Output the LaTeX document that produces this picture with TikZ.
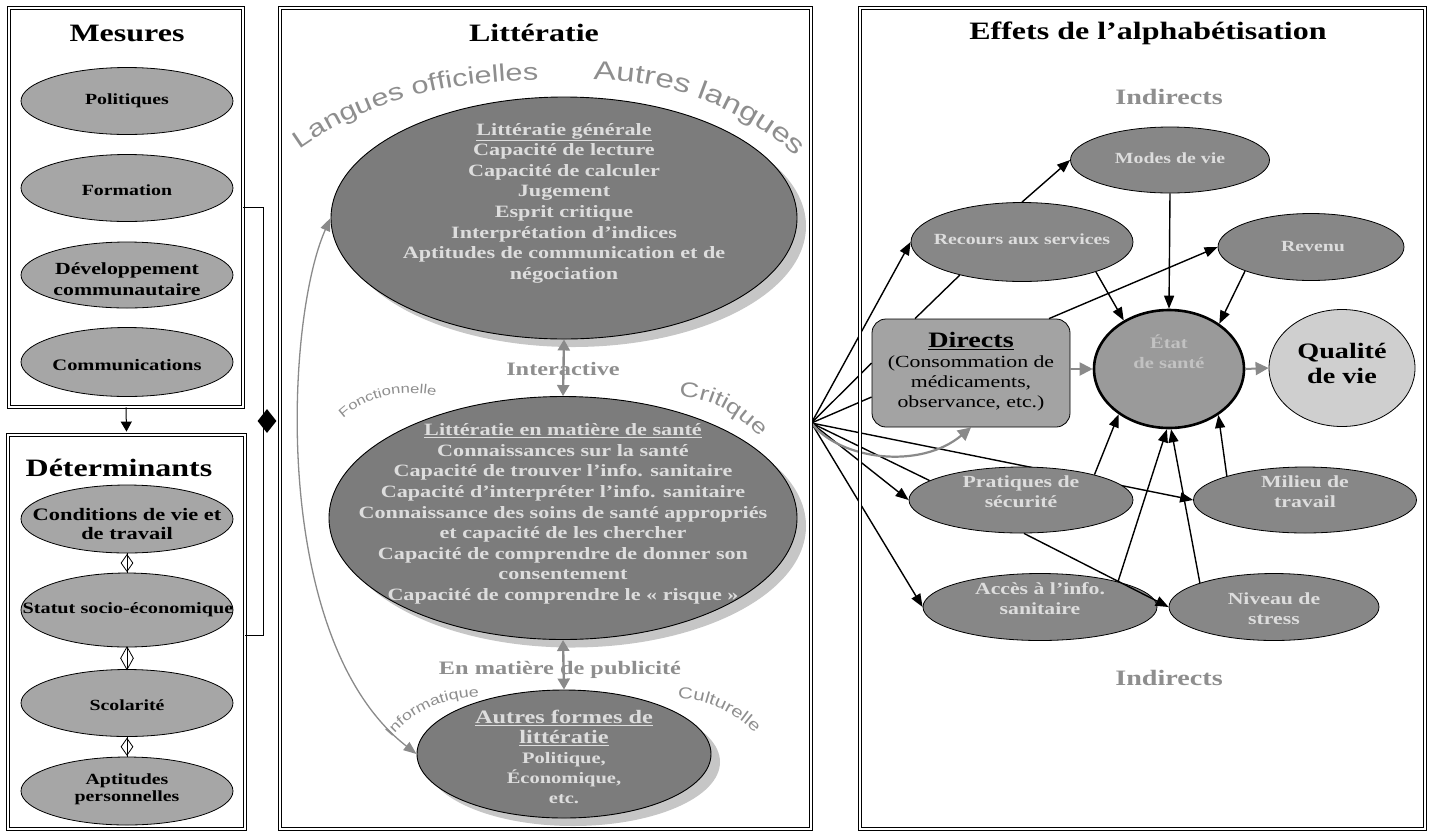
\documentclass[tikz,border=0pt]{standalone}
\usepackage{fontspec}
\setmainfont{Liberation Serif}[FakeStretch=1.28]
\newfontfamily\arialw{Liberation Sans}[FakeStretch=1.28]
\usetikzlibrary{arrows.meta,shapes.geometric,shadows,backgrounds,decorations.text}

\definecolor{lellgray}{HTML}{A6A6A6}
\definecolor{mellgray}{HTML}{7C7C7C}
\definecolor{rellgray}{HTML}{878787}
\definecolor{boxgray}{HTML}{A3A3A3}
\definecolor{qualgray}{HTML}{CFCFCF}
\definecolor{etatgray}{HTML}{9A9A9A}
\definecolor{paletxt}{HTML}{DDDDDD}
\definecolor{etattxt}{HTML}{C2C2C2}
\definecolor{lblgray}{HTML}{8E8E8E}
\definecolor{arrgray}{HTML}{8A8A8A}
\definecolor{shadgray}{HTML}{C6C6C6}

\newcommand{\fsz}[2]{\fontsize{#1}{#2}\selectfont}

\begin{document}
\begin{tikzpicture}[x=1pt, y=-1pt,
    panel/.style={draw, double, double distance=2pt, line width=0.8pt, inner sep=0pt},
    ttl/.style={font=\bfseries\fsz{25}{28}, inner sep=0pt},
    lell/.style={ellipse, draw, line width=0.8pt, fill=lellgray, inner sep=0pt},
    ltxt/.style={align=center, font=\bfseries\fsz{15.5}{18}, inner sep=0pt},
    mell/.style={ellipse, draw, line width=0.9pt, fill=mellgray, inner sep=0pt,
      drop shadow={shadow xshift=9pt, shadow yshift=-8pt, fill=shadgray, opacity=1}},
    mtxt/.style={align=center, text=paletxt, font=\bfseries\fsz{17.3}{20.6}, inner sep=0pt},
    rell/.style={ellipse, draw, line width=0.8pt, fill=rellgray, inner sep=0pt},
    rtxt/.style={align=center, text=paletxt, font=\bfseries\fsz{17}{20}, inner sep=0pt},
    glbl/.style={text=lblgray, font=\bfseries\fsz{19}{22}, inner sep=0pt},
    blk/.style={line width=1.4pt, -{Triangle[length=13pt, width=10pt]}},
    gryarr/.style={draw=arrgray, line width=2.4pt, -{Triangle[length=13pt, width=13pt]}},
    dmd/.style={diamond, draw, line width=0.8pt, inner sep=0pt, minimum width=12pt, minimum height=17pt},
    curvlbl/.style={decorate, decoration={text along path, text align=center, text color=lblgray}}
  ]
  \useasboundingbox (0,0) rectangle (1430,831);

  % the four panels
  \node[panel, minimum width=234pt, minimum height=399pt] (mes) at (126,207.5) {};
  \node[panel, minimum width=237pt, minimum height=394pt] (det) at (126.5,632) {};
  \node[panel, minimum width=531pt, minimum height=821pt] (lit) at (545.5,418.5) {};
  \node[panel, minimum width=565pt, minimum height=821pt] (eff) at (1142.5,418.5) {};

  \node[ttl] (mes-t) at (127,33) {Mesures};
  \node[ttl] (det-t) at (119,468) {Déterminants};
  \node[ttl] (lit-t) at (534,33) {Littératie};
  \node[ttl] (eff-t) at (1148,33) {Effets de l’alphabétisation};

  % Mesures
  \node[lell, minimum width=212pt, minimum height=67pt] (pol) at (127,101) {};
  \node[ltxt] (pol-t) at (pol) {Politiques};
  \node[lell, minimum width=212pt, minimum height=67pt] (form) at (127,188) {};
  \node[ltxt] (form-t) at (127,190) {Formation};
  \node[lell, minimum width=212pt, minimum height=66pt] (dev) at (127,275) {};
  \node[ltxt, font=\bfseries\fsz{17}{21}] (dev-t) at (127,279) {Développement\\communautaire};
  \node[lell, minimum width=212pt, minimum height=69pt] (comm) at (127,362) {};
  \node[ltxt, font=\bfseries\fsz{16}{18}] (comm-t) at (127,365) {Communications};

  % Determinants
  \node[lell, minimum width=212pt, minimum height=68pt] (cond) at (127,519) {};
  \node[ltxt, font=\bfseries\fsz{17.5}{19}] (cond-t) at (127,524) {Conditions de vie et\\de travail};
  \node[lell, minimum width=212pt, minimum height=74pt] (stat) at (127,610) {};
  \node[ltxt, font=\bfseries\fsz{15.8}{18}] (stat-t) at (128,610) {Statut socio-économique};
  \node[lell, minimum width=212pt, minimum height=67pt] (scol) at (127,703) {};
  \node[ltxt] (scol-t) at (127,705) {Scolarité};
  \node[lell, minimum width=212pt, minimum height=68pt] (apt) at (127,791) {};
  \node[ltxt, font=\bfseries\fsz{15.5}{17}] (apt-t) at (127,789) {Aptitudes\\personnelles};

  \draw[line width=0.8pt] (cond) -- (stat) node[dmd, pos=0.5] (dm1) {};
  \draw[line width=0.8pt] (stat) -- (scol) node[dmd, pos=0.5, minimum width=13pt, minimum height=23pt] (dm2) {};
  \draw[line width=0.8pt] (scol) -- (apt) node[dmd, pos=0.5] (dm3) {};

  \draw[line width=1pt, -{Triangle[length=10pt, width=11pt]}] (mes.south) -- ([yshift=3pt]det.north);
  \draw[line width=1pt] (mes.east) -- (263,207.5) |- (det.east |- 0,635);
  \node[diamond, fill=black, inner sep=0pt, minimum width=19pt, minimum height=24pt] (jdia) at (267,421) {};

  % Litteratie
  \path[curvlbl, decoration={text={|\arialw\fsz{24}{24}|Langues officielles}}]
    (290,156) .. controls (360,103) and (440,80) .. (550,80);
  \path[curvlbl, decoration={text={|\arialw\fsz{26}{26}|Autres langues}}]
    (580,80) .. controls (660,76) and (745,105) .. (806,166);

  \node[mell, minimum width=466pt, minimum height=242pt] (gen) at (564,218) {};
  \node[mtxt] (gen-t) at (564,203) {\underline{Littératie générale}\\Capacité de lecture\\Capacité de calculer\\Jugement\\Esprit critique\\Interprétation d’indices\\Aptitudes de communication et de\\négociation};

  \path[curvlbl, decoration={text={|\arialw\fsz{13}{13}|Fonctionnelle}}]
    (336,426) .. controls (360,398) and (400,386) .. (446,398);
  \path[curvlbl, decoration={text={|\arialw\fsz{21}{21}|Critique}}]
    (670,398) .. controls (705,394) and (736,410) .. (766,444);

  \node[mell, minimum width=468pt, minimum height=243pt] (hs) at (563,518) {};
  \node[mtxt] (hs-t) at (563,514) {\underline{Littératie en matière de santé}\\Connaissances sur la santé\\Capacité de trouver l’info. sanitaire\\Capacité d’interpréter l’info. sanitaire\\Connaissance des soins de santé appropriés\\et capacité de les chercher\\Capacité de comprendre de donner son\\consentement\\Capacité de comprendre le « risque »};

  \path[curvlbl, decoration={text={|\arialw\fsz{14}{14}|Informatique}}]
    (386,744) .. controls (408,714) and (440,696) .. (488,697);
  \path[curvlbl, decoration={text={|\arialw\fsz{16}{16}|Culturelle}}]
    (668,700) .. controls (700,696) and (732,708) .. (762,740);

  \node[mell, minimum width=294pt, minimum height=128pt] (aut) at (564,754) {};
  \node[mtxt, font=\bfseries\fsz{16}{20}] (aut-t) at (564,757) {{\fsz{19}{21}\underline{Autres formes de}}\\{\fsz{19}{21}\underline{littératie}}\\Politique,\\Économique,\\etc.};

  \draw[gryarr, {Triangle[length=11pt, width=12pt]}-{Triangle[length=11pt, width=12pt]}] (gen.south) -- (hs.north);
  \node[glbl] (inter) at (563,369) {Interactive};
  \draw[gryarr, {Triangle[length=11pt, width=12pt]}-{Triangle[length=11pt, width=12pt]}] (hs.south) -- (aut.north);
  \node[glbl] (pub) at (560,670) {En matière de publicité};

  \draw[draw=arrgray, line width=1.3pt, {Triangle[length=13pt, width=10pt]}-{Triangle[length=13pt, width=10pt]}]
    (gen.west) .. controls (285,320) and (270,640) .. (aut.west);

  % Effets
  \node[glbl, font=\bfseries\fsz{22}{24}] (ind-top) at (1169,97) {Indirects};
  \node[glbl, font=\bfseries\fsz{22}{24}] (ind-bot) at (1169,678) {Indirects};

  \node[rell, minimum width=199pt, minimum height=66pt] (modes) at (1170,160) {};
  \node[rtxt, font=\bfseries\fsz{15.5}{18}] (modes-t) at (1170,158) {Modes de vie};
  \node[rell, minimum width=222pt, minimum height=79pt] (recours) at (1022,242) {};
  \node[rtxt, font=\bfseries\fsz{15.5}{18}] (recours-t) at (1022,239) {Recours aux services};
  \node[rell, minimum width=186pt, minimum height=67pt] (revenu) at (1311,247) {};
  \node[rtxt, font=\bfseries\fsz{15.5}{18}] (revenu-t) at (1313,247) {Revenu};

  \node[draw, line width=0.8pt, fill=boxgray, rounded corners=14pt, minimum width=198pt, minimum height=108pt] (directs) at (971,373) {};
  \node[align=center, inner sep=0pt, font=\fsz{17}{20}] (directs-t) at (971,372) {{\fsz{22}{22}\bfseries\underline{Directs}}\\(Consommation de\\médicaments,\\observance, etc.)};

  \node[ellipse, draw, line width=2.6pt, fill=etatgray, inner sep=0pt, minimum width=150pt, minimum height=118pt] (etat) at (1169,369) {};
  \node[align=center, inner sep=0pt, text=etattxt, font=\bfseries\fsz{16}{20}] (etat-t) at (1169,352) {État\\de santé};
  \node[ellipse, draw, line width=0.8pt, fill=qualgray, inner sep=0pt, minimum width=146pt, minimum height=117pt] (qual) at (1342,368) {};
  \node[align=center, inner sep=0pt, font=\bfseries\fsz{22}{25}] (qual-t) at (1342,363) {Qualité\\de vie};

  \node[rell, minimum width=224pt, minimum height=66pt] (prat) at (1021,500) {};
  \node[rtxt] (prat-t) at (1021,492) {Pratiques de\\sécurité};
  \node[rell, minimum width=223pt, minimum height=66pt] (milieu) at (1305,500) {};
  \node[rtxt] (milieu-t) at (1305,492) {Milieu de\\travail};
  \node[rell, minimum width=234pt, minimum height=67pt] (acces) at (1040,607) {};
  \node[rtxt] (acces-t) at (1040,599) {Accès à l’info.\\sanitaire};
  \node[rell, minimum width=210pt, minimum height=67pt] (stress) at (1274,607) {};
  \node[rtxt] (stress-t) at (1274,609) {Niveau de\\stress};

  % fan out of the Litteratie panel
  \coordinate (fan) at (lit.east |- 0,423);
  \begin{scope}[on background layer]
    \draw[blk] (fan) -- (recours.west);
    \draw[line width=1.4pt] (fan) -- ([yshift=10pt]directs.west);
    \draw[line width=1.4pt] (fan) -- ([yshift=-24pt]directs.west);
    \draw[blk] (fan) -- (milieu.west);
    \draw[line width=1.4pt] (fan) -- (prat.168);
    \draw[blk] (fan) -- (prat.west);
    \draw[blk] (fan) -- (acces.west);
    \draw[gryarr, line width=2.2pt] (fan) .. controls (840,460) and (920,470) .. (directs.south);
  \end{scope}

  \draw[blk] (recours.north) -- (modes.west);
  \draw[line width=1.4pt] ([xshift=-56pt]directs.north) -- (recours.208);
  \draw[blk] ([xshift=78pt]directs.north) -- (revenu.west);
  \draw[blk] (recours.-22) -- (etat.133);
  \draw[blk] (modes.south) -- (etat.north);
  \draw[blk] (revenu.200) -- (etat.42);
  \draw[blk] (prat.19) -- (etat.222);
  \draw[blk] (acces.18) -- (etat.-92);
  \draw[blk] (stress.162) -- (etat.-88);
  \draw[blk] (milieu.163) -- (etat.-43);
  \draw[blk] (prat.-85) -- (stress.west);
  \draw[gryarr, line width=2pt] (directs.east |- etat.west) -- (etat.west);
  \draw[gryarr, line width=2pt] (etat.east) -- (qual.west);
\end{tikzpicture}
\end{document}
